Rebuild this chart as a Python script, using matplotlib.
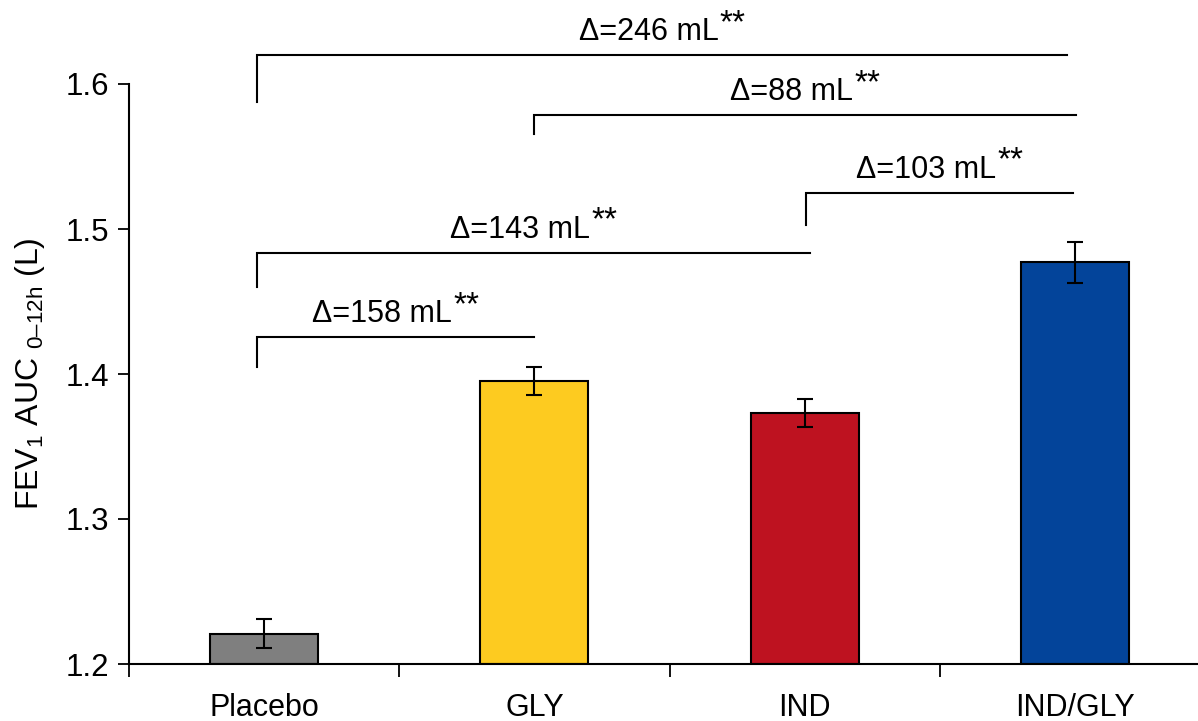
import matplotlib
matplotlib.use("Agg")
import matplotlib.pyplot as plt
from matplotlib.transforms import offset_copy

plt.rcParams['font.family'] = ['Liberation Sans', 'DejaVu Sans']
plt.rcParams['mathtext.fontset'] = 'custom'
plt.rcParams['mathtext.rm'] = 'Liberation Sans'
plt.rcParams['mathtext.it'] = 'Liberation Sans:italic'
plt.rcParams['mathtext.bf'] = 'Liberation Sans:bold'

# Treatment groups and FEV1 AUC(0-12h) means with error bars (L)
groups = ["Placebo", "GLY", "IND", "IND/GLY"]
means = [1.221, 1.395, 1.373, 1.477]
errors = [0.010, 0.0097, 0.0096, 0.014]
colors = ["#7f7f7f", "#fdcb20", "#be1220", "#03449a"]

# Pairwise comparisons: (left group, right group, difference label)
comparisons = [
    (0, 3, "\u0394=246 mL"),
    (1, 3, "\u0394=88 mL"),
    (2, 3, "\u0394=103 mL"),
    (0, 2, "\u0394=143 mL"),
    (0, 1, "\u0394=158 mL"),
]
significance = "**"

# Bracket heights (top, bottom of left leg) in data units
bracket_levels = [
    (1.6198, 1.5876),
    (1.5784, 1.5655),
    (1.5250, 1.5028),
    (1.4837, 1.4600),
    (1.4253, 1.4046),
]

W, H, DPI = 1198, 721, 100
fig = plt.figure(figsize=(W / DPI, H / DPI), dpi=DPI)
ax = fig.add_axes([129 / W, (H - 664) / H, (W - 129) / W, (664 - 84) / H])

x = list(range(len(groups)))
ax.bar(x, [m - 1.2 for m in means], bottom=1.2, width=0.4, color=colors,
       edgecolor="black", linewidth=1.5, zorder=2)
ax.errorbar(x, means, yerr=errors, fmt="none", ecolor="black",
            elinewidth=1.5, capsize=5.5, capthick=1.5, zorder=3)

ax.set_xlim(-0.5, 3.455)
ax.set_ylim(1.2, 1.6)
ax.set_yticks([1.2, 1.3, 1.4, 1.5, 1.6])
ax.set_yticklabels(["1.2", "1.3", "1.4", "1.5", "1.6"])
ax.tick_params(axis="y", direction="out", length=8, width=1.3, labelsize=22.5, pad=6)

# category separators as ticks, labels at centers without tick marks
ax.set_xticks([-0.5, 0.5, 1.5, 2.5])
ax.set_xticklabels([])
ax.set_xticks(x, minor=True)
ax.set_xticklabels(groups, minor=True)
ax.tick_params(axis="x", which="major", direction="out", length=9, width=1.3)
ax.tick_params(axis="x", which="minor", length=0, labelsize=22, pad=21)

for s in ["top", "right"]:
    ax.spines[s].set_visible(False)
for s in ["left", "bottom"]:
    ax.spines[s].set_linewidth(1.5)

ax.set_ylabel("FEV$_1$ AUC $_{\\mathrm{0\u201312h}}$ (L)", fontsize=23)
ax.yaxis.set_label_coords(-0.077, 0.5)

# comparison brackets
left_off = -0.028
right_ends = [2.972, 3.002, 2.991, 2.02, 0.997]
left_pos = [0 + left_off, 1.0, 2.006, 0 + left_off, 0 + left_off]
fig.canvas.draw()
renderer = fig.canvas.get_renderer()
for (i, j, lab), (ytop, ybot), xl, xr in zip(comparisons, bracket_levels, left_pos, right_ends):
    ax.plot([xl, xl, xr], [ybot, ytop, ytop], color="black", lw=1.5,
            clip_on=False, solid_joinstyle="miter", zorder=4)
    xc = (xl + xr) / 2
    t1 = ax.text(xc, ytop, lab, fontsize=22, ha="left", va="baseline",
                 transform=offset_copy(ax.transData, fig, x=0, y=15, units="dots"))
    t2 = ax.text(xc, ytop, significance, fontsize=24, ha="left", va="baseline")
    w1 = t1.get_window_extent(renderer).width
    w2 = t2.get_window_extent(renderer).width
    total = w1 + w2
    t1.set_transform(offset_copy(ax.transData, fig, x=-total / 2, y=15, units="dots"))
    t2.set_transform(offset_copy(ax.transData, fig, x=-total / 2 + w1 + 1, y=23, units="dots"))

fig.savefig("out.png", dpi=DPI)
